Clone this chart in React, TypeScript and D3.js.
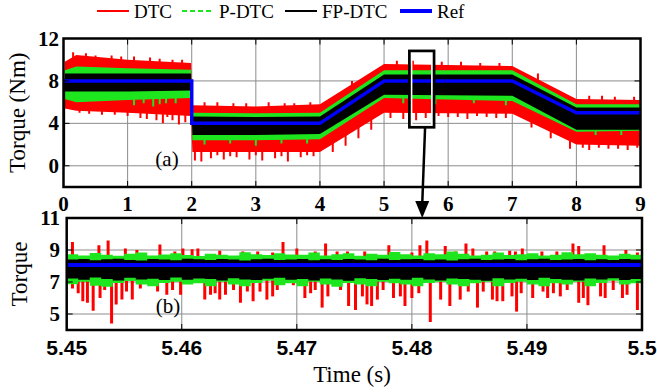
import React from "react";
import * as d3 from "d3";

// ---------- Top panel (a) data: envelopes ----------
const refT = [0, 2, 2, 4, 5, 7, 8, 9];
const refV = [8, 8, 4, 4, 8, 8, 5, 5];

const bandT = [0.02, 0.2, 1.0, 1.99, 2.01, 3.0, 4.0, 5.0, 7.0, 8.0, 9.0];
const redHi = [9.8, 10.45, 10.0, 9.7, 5.7, 5.6, 5.8, 9.6, 9.4, 6.3, 6.2];
const redLo = [5.4, 5.2, 5.0, 4.7, 1.3, 1.3, 1.3, 5.0, 4.9, 2.0, 1.9];
const greenHi = [9.0, 9.35, 9.2, 9.05, 5.0, 4.95, 5.0, 9.0, 9.0, 5.8, 5.8];
const greenLo = [6.3, 6.0, 6.2, 6.4, 2.4, 2.4, 2.5, 6.4, 6.1, 3.2, 3.3];
const blackHi = [8.7, 8.7, 8.7, 8.7, 4.65, 4.6, 4.65, 8.6, 8.6, 5.5, 5.5];
const blackLo = [7.0, 7.0, 7.0, 7.1, 2.9, 2.9, 3.0, 6.7, 6.6, 3.4, 3.4];

const redDownT = [0.25, 0.4, 0.6, 0.8, 1.0, 1.2, 1.3, 1.45, 1.55, 1.62, 1.7, 1.8, 1.9, 2.05, 2.15, 2.3, 2.4, 2.5, 2.6, 2.7, 2.9, 3.0, 3.1, 3.3, 3.4, 3.5, 3.7, 3.8, 3.9, 4.2, 4.4, 4.6, 4.8, 5.1, 5.3, 5.5, 5.65, 5.85, 6.0, 6.15, 6.3, 6.45, 6.6, 6.75, 6.9, 7.3, 7.6, 7.9, 8.1, 8.2, 8.35, 8.5, 8.65, 8.8, 8.95];
const redDownV = [5.0, 4.9, 4.8, 4.8, 4.7, 4.5, 4.4, 4.3, 4.0, 4.6, 4.3, 3.9, 4.1, 0.5, 0.4, 0.7, 1.0, 0.6, 0.9, 0.8, 0.6, 1.0, 0.5, 0.7, 0.9, 0.4, 0.8, 1.0, 0.9, 1.3, 1.9, 2.6, 3.4, 4.5, 4.4, 4.3, 4.5, 4.7, 4.6, 4.6, 4.4, 4.7, 4.6, 4.5, 4.5, 3.6, 2.6, 1.6, 1.7, 1.5, 1.7, 1.6, 1.6, 1.5, 1.7];
const redUpT = [0.15, 0.35, 0.5, 0.75, 0.9, 1.1, 1.35, 1.5, 1.7, 1.85, 2.2, 2.4, 2.65, 2.85, 3.2, 3.45, 3.6, 3.85, 4.5, 5.2, 5.45, 5.9, 6.2, 6.5, 6.8, 7.4, 8.2, 8.4, 8.6, 8.9];
const redUpV = [10.7, 10.6, 10.4, 10.4, 10.3, 10.3, 10.2, 10.1, 10.0, 10.0, 6.0, 6.0, 5.9, 5.9, 6.0, 5.9, 5.9, 6.0, 8.0, 9.9, 9.9, 9.8, 9.8, 9.7, 9.7, 8.7, 6.6, 6.6, 6.5, 6.5];

const greenDownT = [1.1, 1.25, 1.4, 1.5, 1.6, 1.75, 2.2, 2.6, 3.0, 3.4, 3.8, 5.3, 5.8, 6.4, 6.9, 8.3, 8.7];
const greenDownV = [5.7, 5.9, 5.6, 5.8, 5.9, 5.9, 2.0, 2.1, 1.9, 2.1, 2.1, 5.9, 5.8, 5.9, 5.7, 2.9, 2.9];

// zoom window marked on panel (a)
const boxT = [5.395, 5.78];
const boxV = [3.63, 10.83];
const arrowFromT = 5.64;
const arrowToT = 5.4809;

// ---------- Bottom panel (b) data ----------
const bStart = 5.45;
const bStep = 0.001;
const bGreenHi = [8.74,8.66,8.82,8.70,8.64,8.76,8.84,8.66,8.72,8.80,8.68,8.62,8.76,8.70,8.66,8.86,8.74,8.68,8.80,8.72,8.70,8.84,8.66,8.74,8.80,8.64,8.76,8.70,8.88,8.74,8.66,8.80,8.74,8.90,8.76,8.66,8.70,8.84,8.68,8.74,8.80,8.66,8.70,8.86,8.74,8.80,8.70,8.66,8.76,8.70,8.74];
const bGreenLo = [6.86,7.02,6.76,6.70,6.94,7.06,6.84,6.74,6.94,7.02,6.84,6.92,6.74,7.02,6.84,6.74,6.94,7.08,6.80,6.92,6.74,7.02,6.84,6.70,6.94,6.84,6.74,7.02,6.92,6.84,6.74,6.94,7.02,6.84,6.74,6.92,7.02,6.74,6.94,7.02,6.84,6.74,6.92,6.84,7.02,6.74,6.94,7.08,6.84,6.92,6.84];
const bBlackHi = [8.40,8.44,8.36,8.42,8.46,8.38,8.34,8.44,8.40,8.36,8.46,8.42,8.38,8.44,8.40,8.34,8.42,8.46,8.38,8.40,8.44,8.36,8.42,8.38,8.44,8.40,8.36,8.46,8.38,8.42,8.44,8.36,8.40,8.34,8.42,8.46,8.38,8.40,8.44,8.36,8.42,8.46,8.38,8.40,8.44,8.36,8.42,8.38,8.44,8.40,8.42];
const bBlackLo = [7.22,7.14,7.28,7.18,7.10,7.26,7.16,7.20,7.12,7.28,7.14,7.22,7.18,7.10,7.24,7.16,7.12,7.20,7.26,7.14,7.18,7.10,7.22,7.16,7.08,7.24,7.18,7.12,7.20,7.14,7.26,7.16,7.10,7.22,7.18,7.14,7.08,7.24,7.16,7.20,7.12,7.26,7.18,7.14,7.10,7.22,7.16,7.24,7.12,7.18,7.20];
const bRef = 8.06;

const bRedDownT = [5.4505,5.4510,5.4514,5.4518,5.4523,5.4529,5.4533,5.4539,5.4543,5.4548,5.4552,5.4557,5.4564,5.4579,5.4587,5.4592,5.4599,
  5.4620,5.4625,5.4629,5.4633,5.4638,5.4645,5.4651,5.4657,5.4662,5.4668,5.4674,5.4679,5.4683,5.4697,5.4707,5.4712,5.4716,5.4722,5.4727,5.4738,5.4745,
  5.4751,5.4757,5.4761,5.4765,5.4770,5.4775,5.4784,5.4790,5.4794,5.4800,5.4806,5.4816,5.4825,5.4833,5.4842,5.4849,5.4857,5.4862,
  5.4870,5.4874,5.4879,5.4887,5.4891,5.4895,5.4905,5.4914,5.4918,5.4923,5.4929,5.4935,5.4945,5.4949,5.4953,5.4964,5.4968,5.4975,5.4983,5.4987,5.4996];
const bRedDownV = [6.6,6.3,5.8,5.7,5.2,6.0,6.5,4.4,5.6,5.9,6.4,5.9,6.6,6.4,6.2,6.5,6.2,
  5.9,6.2,6.3,5.9,6.2,6.5,5.7,6.4,5.8,6.4,5.9,6.1,6.5,6.8,6.0,6.3,6.5,5.4,6.1,6.5,5.5,
  5.25,6.1,5.6,5.5,5.9,6.5,6.0,6.1,5.5,6.0,6.3,4.5,5.9,5.5,5.9,6.4,5.4,6.4,
  5.9,5.8,5.8,6.1,5.15,6.3,6.0,6.4,6.0,6.3,6.1,6.5,5.7,6.0,5.55,6.1,6.0,6.5,6.0,6.2,5.25];
const bRedUpT = [5.4505,5.4528,5.4536,5.4551,5.4561,5.4581,5.4594,5.4601,5.4609,5.4614,
  5.4633,5.4653,5.4666,5.4679,5.4688,5.4700,5.4716,5.4725,5.4735,5.4744,
  5.4759,5.4780,5.4800,5.4807,5.4813,5.4829,5.4838,5.4847,5.4853,5.4865,
  5.4872,5.4885,5.4890,5.4896,5.4913,5.4926,5.4940,5.4945,5.4967,5.4986,5.4996];
const bRedUpV = [9.5,9.3,9.6,9.1,9.0,9.35,8.9,9.1,9.05,9.1,
  8.95,8.9,8.9,8.85,9.5,9.1,8.9,9.4,8.9,8.9,
  8.9,9.3,8.85,9.3,9.6,9.25,8.9,9.4,9.1,8.9,
  8.9,8.95,8.9,9.1,8.9,8.9,9.4,9.25,9.3,9.0,8.85];

// ticks
const topXTicks = [0, 1, 2, 3, 4, 5, 6, 7, 8, 9];
const topYTicks = [0, 4, 8, 12];
const botXTicks = [5.45, 5.46, 5.47, 5.48, 5.49, 5.5];
const botXLabels = ["5.45", "5.46", "5.47", "5.48", "5.49", "5.5"];
const botYTicks = [5, 7, 9, 11];

const legendItems = ["DTC", "P-DTC", "FP-DTC", "Ref"];

const RED = "#ff0000";
const GREEN = "#1ee61e";
const BLACK = "#000000";
const BLUE = "#0000ff";
const GRID = "#8c8c8c";
const SERIF = "Liberation Serif, Times New Roman, Times, DejaVu Serif, serif";
const SANS = "Liberation Sans, Arial, Helvetica, sans-serif";

export default function App() {
  const xTop = d3.scaleLinear().domain([0, 9]).range([63.5, 640.5]);
  const yTop = d3.scaleLinear().domain([-2, 12]).range([187, 38.5]);
  const xBot = d3.scaleLinear().domain([5.45, 5.5]).range([66.7, 642]);
  const yBot = d3.scaleLinear().domain([4, 11]).range([330, 218]);

  const bandArea = (hi: number[], lo: number[]) =>
    d3.area<number>()
      .x((d) => xTop(d))
      .y0((_, i) => yTop(lo[i]))
      .y1((_, i) => yTop(hi[i]))(bandT) || "";

  const refLine = d3.line<number>()
    .x((d) => xTop(d))
    .y((_, i) => yTop(refV[i]))(refT) || "";

  const redLoAt = d3.scaleLinear().domain(bandT).range(redLo);
  const redHiAt = d3.scaleLinear().domain(bandT).range(redHi);
  const greenLoAt = d3.scaleLinear().domain(bandT).range(greenLo);

  const bT = bGreenHi.map((_, i) => bStart + i * bStep);
  const bArea = (hi: number[], lo: number[]) =>
    d3.area<number>()
      .curve(d3.curveStepAfter)
      .x((d) => xBot(d))
      .y0((_, i) => yBot(lo[i]))
      .y1((_, i) => yBot(hi[i]))(bT) || "";

  const tx0 = xTop.range()[0], tx1 = xTop.range()[1];
  const ty0 = yTop.range()[1], ty1 = yTop.range()[0];
  const bx0 = xBot.range()[0], bx1 = xBot.range()[1];
  const by0 = yBot.range()[1], by1 = yBot.range()[0];
  const tickLen = 6;

  const boxX0 = xTop(boxT[0]), boxX1 = xTop(boxT[1]);
  const boxY0 = yTop(boxV[1]), boxY1 = yTop(boxV[0]);
  const arX0 = xTop(arrowFromT), arY0 = boxY1;
  const arX1 = xBot(arrowToT), arY1 = by0;

  const legendX = [97, 182, 285, 400];
  const legendTextX = [134, 219, 322, 437];
  const serif = { fontFamily: SERIF };
  const sans = { fontFamily: SANS };

  return (
    <svg width={657} height={392} style={{ position: "absolute", left: 0, top: 0, background: "#fff" }}>
      <defs>
        <clipPath id="clipTop"><rect x={tx0} y={ty0} width={tx1 - tx0} height={ty1 - ty0} /></clipPath>
        <clipPath id="clipBot"><rect x={bx0} y={by0} width={bx1 - bx0} height={by1 - by0} /></clipPath>
      </defs>
      <rect x={0} y={0} width={657} height={392} fill="#fff" />

      {/* Legend */}
      <g style={serif} fontSize={19}>
        {legendItems.map((name, i) => {
          const col = [RED, GREEN, BLACK, BLUE][i];
          return (
            <g key={name}>
              <line x1={legendX[i]} x2={legendX[i] + 32} y1={11} y2={11} stroke={col}
                strokeWidth={i === 3 ? 4 : 2} strokeDasharray={i === 1 ? "5,3" : undefined} />
              <text x={legendTextX[i]} y={18} style={serif}>{name}</text>
            </g>
          );
        })}
      </g>

      {/* ---------- Top panel ---------- */}
      <g>
        {topXTicks.slice(1, -1).map((t) => (
          <line key={"gx" + t} x1={xTop(t)} x2={xTop(t)} y1={ty0} y2={ty1} stroke={GRID} strokeWidth={1} />
        ))}
        {topYTicks.filter((v) => v !== 12).map((v) => (
          <line key={"gy" + v} x1={tx0} x2={tx1} y1={yTop(v)} y2={yTop(v)} stroke={GRID} strokeWidth={1} />
        ))}
        <g clipPath="url(#clipTop)">
          <path d={bandArea(redHi, redLo)} fill={RED} />
          {redDownT.map((t, i) => (
            <line key={"rd" + i} x1={xTop(t)} x2={xTop(t)} y1={yTop(redLoAt(t) + 0.4)} y2={yTop(redDownV[i])} stroke={RED} strokeWidth={2} />
          ))}
          {redUpT.map((t, i) => (
            <line key={"ru" + i} x1={xTop(t)} x2={xTop(t)} y1={yTop(redHiAt(t) - 0.4)} y2={yTop(redUpV[i])} stroke={RED} strokeWidth={2} />
          ))}
          <path d={bandArea(greenHi, greenLo)} fill={GREEN} />
          {greenDownT.map((t, i) => (
            <line key={"gd" + i} x1={xTop(t)} x2={xTop(t)} y1={yTop(greenLoAt(t) + 0.3)} y2={yTop(greenDownV[i])} stroke={GREEN} strokeWidth={2} />
          ))}
          <path d={bandArea(blackHi, blackLo)} fill={BLACK} />
          <line x1={xTop(0.01)} x2={xTop(0.01)} y1={yTop(0)} y2={yTop(8)} stroke={BLACK} strokeWidth={2} />
          <path d={refLine} fill="none" stroke={BLUE} strokeWidth={3.5} />
          <rect x={boxX0 + 2} y={boxY0 + 2} width={boxX1 - boxX0 - 4} height={boxY1 - boxY0 - 4} fill="none" stroke="#fff" strokeWidth={2} />
          <rect x={boxX0} y={boxY0} width={boxX1 - boxX0} height={boxY1 - boxY0} fill="none" stroke={BLACK} strokeWidth={2.7} />
        </g>
        {topXTicks.map((t) => (
          <g key={"tx" + t}>
            <line x1={xTop(t)} x2={xTop(t)} y1={ty1} y2={ty1 - tickLen} stroke="#000" strokeWidth={1} />
            <line x1={xTop(t)} x2={xTop(t)} y1={ty0} y2={ty0 + tickLen} stroke="#000" strokeWidth={1} />
          </g>
        ))}
        {topYTicks.map((v) => (
          <g key={"ty" + v}>
            <line x1={tx0} x2={tx0 + tickLen} y1={yTop(v)} y2={yTop(v)} stroke="#000" strokeWidth={1} />
            <line x1={tx1} x2={tx1 - tickLen} y1={yTop(v)} y2={yTop(v)} stroke="#000" strokeWidth={1} />
          </g>
        ))}
        <rect x={tx0} y={ty0} width={tx1 - tx0} height={ty1 - ty0} fill="none" stroke="#000" strokeWidth={2.5} />
        <g fontSize={21} fontWeight="bold">
          {topXTicks.map((t) => (
            <text key={"lx" + t} x={xTop(t)} y={211} textAnchor="middle" style={serif}>{t}</text>
          ))}
          {topYTicks.map((v) => (
            <text key={"ly" + v} x={59} y={yTop(v) + 7} textAnchor="end" style={serif}>{v}</text>
          ))}
        </g>
        <text x={167} y={166} style={serif} fontSize={21} textAnchor="middle">(a)</text>
        <text transform={`translate(25,${(ty0 + ty1) / 2}) rotate(-90)`} style={serif} fontSize={23} textAnchor="middle">Torque (Nm)</text>
      </g>

      {/* ---------- Bottom panel ---------- */}
      <g>
        {botXTicks.slice(1, -1).map((t) => (
          <line key={"bgx" + t} x1={xBot(t)} x2={xBot(t)} y1={by0} y2={by1} stroke={GRID} strokeWidth={1} />
        ))}
        {botYTicks.filter((v) => v !== 11).map((v) => (
          <line key={"bgy" + v} x1={bx0} x2={bx1} y1={yBot(v)} y2={yBot(v)} stroke={GRID} strokeWidth={1} />
        ))}
        <g clipPath="url(#clipBot)">
          {bRedDownT.map((t, i) => (
            <line key={"brd" + i} x1={xBot(t)} x2={xBot(t)} y1={yBot(8)} y2={yBot(bRedDownV[i])} stroke={RED} strokeWidth={3} />
          ))}
          {bRedUpT.map((t, i) => (
            <line key={"bru" + i} x1={xBot(t)} x2={xBot(t)} y1={yBot(8)} y2={yBot(bRedUpV[i])} stroke={RED} strokeWidth={3} />
          ))}
          <path d={bArea(bGreenHi, bGreenLo)} fill={GREEN} />
          <path d={bArea(bBlackHi, bBlackLo)} fill={BLACK} />
          <line x1={bx0} x2={bx1} y1={yBot(bRef)} y2={yBot(bRef)} stroke={BLUE} strokeWidth={4} />
        </g>
        {botXTicks.map((t) => (
          <g key={"btx" + t}>
            <line x1={xBot(t)} x2={xBot(t)} y1={by1} y2={by1 - tickLen} stroke="#000" strokeWidth={1} />
            <line x1={xBot(t)} x2={xBot(t)} y1={by0} y2={by0 + tickLen} stroke="#000" strokeWidth={1} />
          </g>
        ))}
        {botYTicks.map((v) => (
          <g key={"bty" + v}>
            <line x1={bx0} x2={bx0 + tickLen} y1={yBot(v)} y2={yBot(v)} stroke="#000" strokeWidth={1} />
            <line x1={bx1} x2={bx1 - tickLen} y1={yBot(v)} y2={yBot(v)} stroke="#000" strokeWidth={1} />
          </g>
        ))}
        <rect x={bx0} y={by0} width={bx1 - bx0} height={by1 - by0} fill="none" stroke="#000" strokeWidth={2.5} />
        <g fontSize={21} fontWeight="bold">
          {botXTicks.map((t, i) => (
            <text key={"blx" + t} x={xBot(t)} y={355} textAnchor="middle" style={sans}>{botXLabels[i]}</text>
          ))}
        </g>
        <g fontSize={21} fontWeight="bold">
          {botYTicks.map((v) => (
            <text key={"bly" + v} x={60} y={yBot(v) + 7} textAnchor="end" style={serif}>{v}</text>
          ))}
        </g>
        <text x={168} y={313} style={serif} fontSize={21} textAnchor="middle">(b)</text>
        <text transform={`translate(27,${(by0 + by1) / 2}) rotate(-90)`} style={serif} fontSize={23} textAnchor="middle">Torque</text>
        <text x={352} y={382} style={serif} fontSize={23} textAnchor="middle">Time (s)</text>
      </g>

      {/* Arrow from zoom box to panel (b) */}
      <line x1={arX0} y1={arY0} x2={arX1} y2={arY1 - 14} stroke="#000" strokeWidth={2.5} />
      <polygon points={`${arX1},${arY1} ${arX1 - 7},${arY1 - 17} ${arX1 + 7},${arY1 - 17}`} fill="#000" />
    </svg>
  );
}
